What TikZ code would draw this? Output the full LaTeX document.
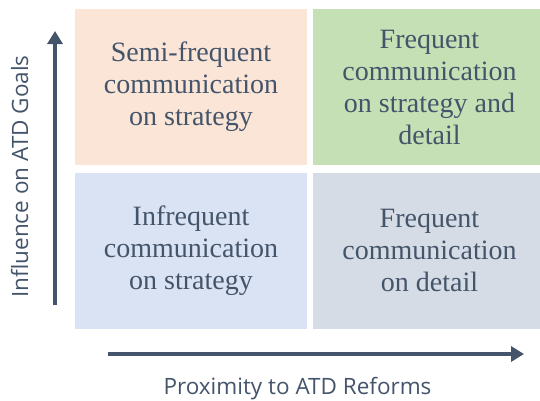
\documentclass[tikz,border=0pt]{standalone}
\usepackage{fontspec}
\setmainfont{Liberation Serif}
\newfontfamily\axisfont{Open Sans}
\usetikzlibrary{arrows.meta}
\definecolor{slate}{HTML}{44546A}
\definecolor{peach}{HTML}{FBE5D6}
\definecolor{sage}{HTML}{C5E0B4}
\definecolor{paleblue}{HTML}{DAE3F3}
\definecolor{palegray}{HTML}{D6DCE5}
\tikzset{
  quad/.style={minimum height=156pt, inner sep=0pt, align=center, text=slate,
    font=\fontsize{28}{32}\selectfont},
  axis/.style={draw=slate, line width=4.5pt, -{Triangle[width=15pt,length=13pt]}},
  axislabel/.style={text=slate, inner sep=0pt, font=\axisfont\fontsize{22.5}{27}\selectfont}
}
\begin{document}
\begin{tikzpicture}[x=1pt,y=1pt]
    \useasboundingbox (0,0) rectangle (540,400);
    % the four quadrants
    \node[quad, fill=peach, minimum width=232pt] (semi) at (191,313)
        {Semi-frequent\\communication\\on strategy};
    \node[quad, fill=sage, minimum width=233pt] (both) at (429.5,313)
        {Frequent\\communication\\on strategy and\\detail};
    \node[quad, fill=paleblue, minimum width=232pt] (infreq) at (191,149.5)
        {Infrequent\\communication\\on strategy};
    \node[quad, fill=palegray, minimum width=233pt] (detail) at (429.5,149.5)
        {Frequent\\communication\\on detail};
    % axes
    \coordinate (ytail) at (55,95);
    \coordinate (yhead) at (55,369);
    \coordinate (xtail) at (108,46);
    \coordinate (xhead) at (524,46);
    \draw[axis] (ytail) -- (yhead);
    \draw[axis] (xtail) -- (xhead);
    \node[axislabel, rotate=90, anchor=base] (ylabel) at (28,223.5) {Influence on ATD Goals};
    \node[axislabel, anchor=base] (xlabel) at (297.5,6) {Proximity to ATD Reforms};
\end{tikzpicture}
\end{document}
